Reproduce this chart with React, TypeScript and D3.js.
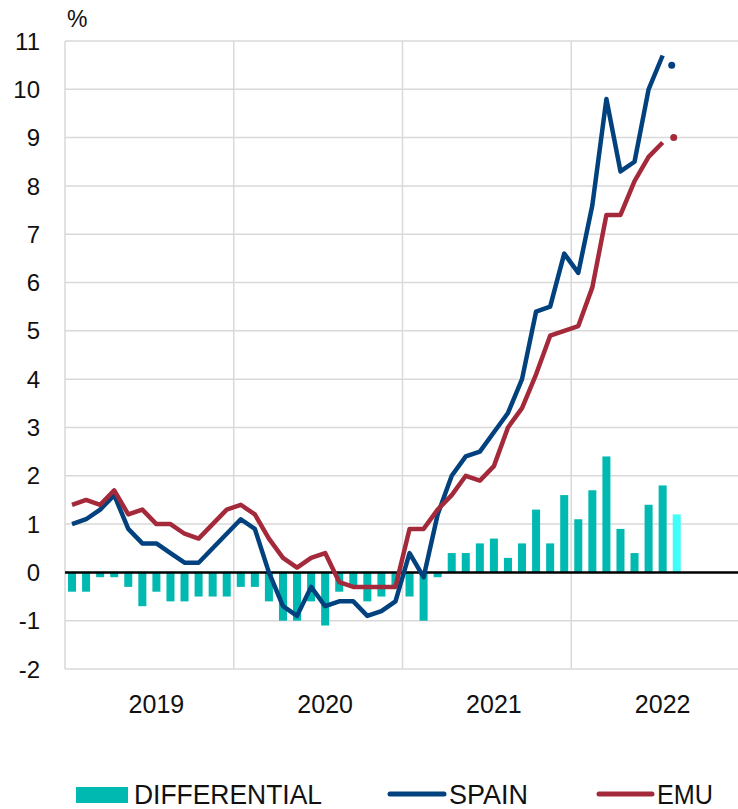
import React from 'react';
import * as d3 from 'd3';

// year categories, every month of each gets a slot on the x axis
const years = ['2019', '2020', '2021', '2022'];
const months = years.flatMap((y) =>
  ['01', '02', '03', '04', '05', '06', '07', '08', '09', '10', '11', '12'].map((m) => `${y}-${m}`)
);

// inflation, % y/y, Jan 2019 .. Jul 2022
const spain = [
  1.0, 1.1, 1.3, 1.6, 0.9, 0.6, 0.6, 0.4, 0.2, 0.2, 0.5, 0.8,
  1.1, 0.9, 0.0, -0.7, -0.9, -0.3, -0.7, -0.6, -0.6, -0.9, -0.8, -0.6,
  0.4, -0.1, 1.2, 2.0, 2.4, 2.5, 2.9, 3.3, 4.0, 5.4, 5.5, 6.6,
  6.2, 7.6, 9.8, 8.3, 8.5, 10.0, 10.7,
];
const emu = [
  1.4, 1.5, 1.4, 1.7, 1.2, 1.3, 1.0, 1.0, 0.8, 0.7, 1.0, 1.3,
  1.4, 1.2, 0.7, 0.3, 0.1, 0.3, 0.4, -0.2, -0.3, -0.3, -0.3, -0.3,
  0.9, 0.9, 1.3, 1.6, 2.0, 1.9, 2.2, 3.0, 3.4, 4.1, 4.9, 5.0,
  5.1, 5.9, 7.4, 7.4, 8.1, 8.6, 8.9,
];
// Aug 2022 flash estimates
const flashMonth = '2022-08';
const spainFlash = 10.5;
const emuFlash = 9.0;

// Spain minus EMU, Jan 2019 .. Aug 2022 (last one is the flash)
const differential = [
  -0.4, -0.4, -0.1, -0.1, -0.3, -0.7, -0.4, -0.6, -0.6, -0.5, -0.5, -0.5,
  -0.3, -0.3, -0.6, -1.0, -1.0, -0.6, -1.1, -0.4, -0.3, -0.6, -0.5, -0.3,
  -0.5, -1.0, -0.1, 0.4, 0.4, 0.6, 0.7, 0.3, 0.6, 1.3, 0.6, 1.6,
  1.1, 1.7, 2.4, 0.9, 0.4, 1.4, 1.8, 1.2,
];

const yTicks = [-2, -1, 0, 1, 2, 3, 4, 5, 6, 7, 8, 9, 10, 11];

const W = 738;
const H = 809;
const FONT = '"Liberation Sans", Arial, Helvetica, sans-serif';
const TEAL = '#00b9b0';
const TEAL_FLASH = '#40fff8';
const BLUE = '#00417e';
const RED = '#a3293b';
const GRID = '#d9d9d9';

export default function App() {
  const x = d3.scaleBand<string>().domain(months).range([65, 740]).paddingInner(0.43).paddingOuter(0.215);
  const y = d3.scaleLinear().domain([-2, 11]).range([669, 41]);
  const cx = (m: string) => (x(m) as number) + x.bandwidth() / 2;

  const line = d3
    .line<number>()
    .x((_, i) => cx(months[i]))
    .y((d) => y(d));

  // year boundaries: left edge of the January slot
  const yearStart = (yr: string) => x(`${yr}-01`)! - (x.step() * x.paddingInner()) / 2;
  const xEnd = 740;

  return (
    <svg width={W} height={H} style={{ position: 'absolute', left: 0, top: 0, fontFamily: FONT }}>
      <rect width={W} height={H} fill="#fff" />

      {/* horizontal grid */}
      {yTicks.map((t) => (
        <line key={t} x1={65} x2={xEnd} y1={y(t)} y2={y(t)} stroke={GRID} strokeWidth={1.5} />
      ))}
      {/* vertical year grid */}
      {years.map((yr) => (
        <line key={yr} x1={yearStart(yr)} x2={yearStart(yr)} y1={y(11)} y2={y(-2)} stroke={GRID} strokeWidth={1.5} />
      ))}

      {/* y tick labels */}
      {yTicks.map((t) => (
        <text key={t} x={40} y={y(t)} dy="0.36em" textAnchor="end" fontSize={24} fill="#111">
          {t}
        </text>
      ))}
      <text x={67} y={27} fontSize={23} fill="#111">%</text>

      {/* year labels sit under July */}
      {years.map((yr) => (
        <text key={yr} x={cx(`${yr}-07`)} y={713} textAnchor="middle" fontSize={25} fill="#111">
          {yr}
        </text>
      ))}

      {/* differential bars */}
      {differential.map((v, i) => (
        <rect
          key={months[i]}
          x={x(months[i])}
          width={x.bandwidth()}
          y={y(Math.max(0, v))}
          height={Math.abs(y(v) - y(0))}
          fill={months[i] === flashMonth ? TEAL_FLASH : TEAL}
        />
      ))}

      {/* zero line */}
      <line x1={65} x2={xEnd} y1={y(0)} y2={y(0)} stroke="#000" strokeWidth={2.5} />

      {/* series */}
      <path d={line(spain)!} fill="none" stroke={BLUE} strokeWidth={4.5} strokeLinejoin="round" />
      <path d={line(emu)!} fill="none" stroke={RED} strokeWidth={4.5} strokeLinejoin="round" />
      <circle cx={cx(flashMonth) - 5} cy={y(spainFlash)} r={3.5} fill={BLUE} />
      <circle cx={cx(flashMonth) - 3} cy={y(emuFlash)} r={3.5} fill={RED} />

      {/* legend */}
      <rect x={76} y={787} width={52} height={16} fill={TEAL} />
      <text x={134} y={804} fontSize={27} textLength={188} lengthAdjust="spacingAndGlyphs" fill="#111">
        DIFFERENTIAL
      </text>
      <line x1={390} x2={444} y1={794} y2={794} stroke={BLUE} strokeWidth={5} strokeLinecap="round" />
      <text x={449} y={804} fontSize={27} textLength={79} lengthAdjust="spacingAndGlyphs" fill="#111">
        SPAIN
      </text>
      <line x1={599} x2={652} y1={794} y2={794} stroke={RED} strokeWidth={5} strokeLinecap="round" />
      <text x={657} y={804} fontSize={27} textLength={56} lengthAdjust="spacingAndGlyphs" fill="#111">
        EMU
      </text>
    </svg>
  );
}
